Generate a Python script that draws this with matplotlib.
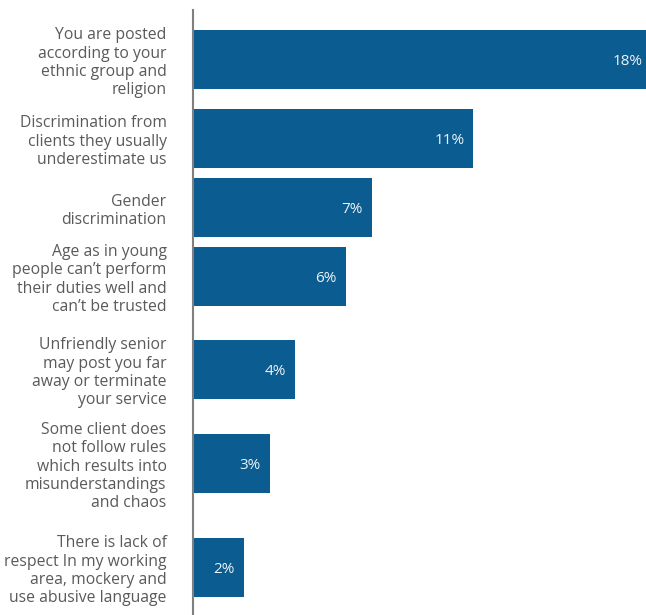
import matplotlib.pyplot as plt

plt.rcParams['font.family'] = ['Open Sans', 'DejaVu Sans']

labels = [
    'You are posted\naccording to your\nethnic group and\nreligion',
    'Discrimination from\nclients they usually\nunderestimate us',
    'Gender\ndiscrimination',
    'Age as in young\npeople can\u2019t perform\ntheir duties well and\ncan\u2019t be trusted',
    'Unfriendly senior\nmay post you far\naway or terminate\nyour service',
    'Some client does\nnot follow rules\nwhich results into\nmisunderstandings\nand chaos',
    'There is lack of\nrespect In my working\narea, mockery and\nuse abusive language',
]
values = [18, 11, 7, 6, 4, 3, 2]

# row centres in figure pixels (from top), the bars are not evenly spaced
row_y = [59.5, 138.5, 207.5, 276.5, 369.5, 463.5, 567.5]

W, H = 646, 615
fig = plt.figure(figsize=(W / 100, H / 100), dpi=100)
ax = fig.add_axes([193 / W, 0, (W - 193) / W, (H - 10) / H])

bar_color = '#0a5c91'
ax.barh(row_y, values, height=59, color=bar_color, clip_on=True)
ax.set_ylim(H, 10)
ax.set_xlim(0, (W - 193) / 25.5)

for y, v in zip(row_y, values):
    ax.annotate('%d%%' % v, xy=(v, y), xytext=(-9, -2), textcoords='offset pixels',
                ha='right', va='center', color='#eef2f6', fontsize=11,
                annotation_clip=False)

ax.set_yticks(row_y)
ax.set_yticklabels(labels, fontsize=11.3, color='#5a5a5a', linespacing=1.17)
ax.tick_params(axis='y', length=0, pad=19)
ax.set_xticks([])

for s in ['top', 'right', 'bottom']:
    ax.spines[s].set_visible(False)
ax.spines['left'].set_color('#808080')
ax.spines['left'].set_linewidth(1.5)

fig.savefig('out.png', dpi=100)
